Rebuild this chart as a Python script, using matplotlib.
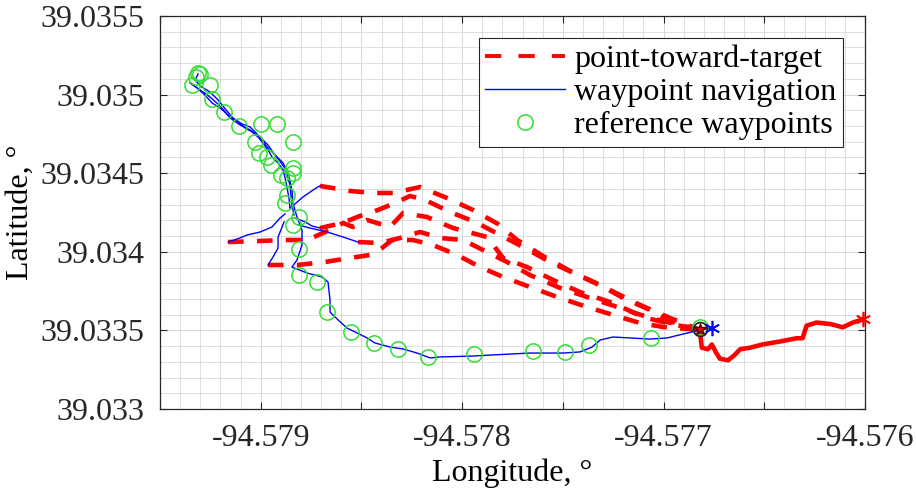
import numpy as np
import matplotlib
matplotlib.use("Agg")
import matplotlib.pyplot as plt
from matplotlib.ticker import MultipleLocator

plt.rcParams.update({
    "font.family": "Liberation Serif",
    "font.size": 23,
})

# ---- data (degrees) ----
# reference waypoints
wp_lon = [-94.57931, -94.57930, -94.57932, -94.57934, -94.57925, -94.57924, -94.57918,
          -94.57911, -94.57900, -94.57892, -94.57884, -94.57903, -94.57901, -94.57897,
          -94.57895, -94.57884, -94.57887, -94.57890, -94.57884, -94.57887, -94.57888,
          -94.57881, -94.57884, -94.57881, -94.57881, -94.57872, -94.57867, -94.57855,
          -94.57844, -94.57832, -94.57817, -94.57794, -94.57765, -94.57749, -94.57737,
          -94.57706, -94.57682]
wp_lat = [39.03514, 39.03513, 39.03511, 39.03506, 39.03506, 39.03497, 39.03489,
          39.03480, 39.03481, 39.03481, 39.03470, 39.03470, 39.03463, 39.03460,
          39.03455, 39.03453, 39.03447, 39.03449, 39.03450, 39.03436, 39.03431,
          39.03422, 39.03417, 39.03402, 39.03385, 39.03381, 39.03362, 39.03349,
          39.03342, 39.03338, 39.03333, 39.03335, 39.03337, 39.03336, 39.03341,
          39.03345, 39.03352]

# waypoint navigation: main run (target -> bottom -> up the ridge)
nav_lon = [-94.576759, -94.576819, -94.576983, -94.577067, -94.577251, -94.577315,
           -94.577355, -94.577415, -94.577499, -94.577663, -94.577847, -94.577946,
           -94.578110, -94.578159, -94.578224, -94.578294, -94.578358, -94.578433,
           -94.578472, -94.578522, -94.578572, -94.578631, -94.578656, -94.578656,
           -94.578666, -94.578696, -94.578770, -94.578845, -94.578820, -94.578795,
           -94.578795, -94.578820, -94.578840, -94.578845, -94.578864, -94.578889,
           -94.578929, -94.578964, -94.579003, -94.579053, -94.579103, -94.579152,
           -94.579202, -94.579252, -94.579301, -94.579341]
nav_lat = [39.033515, 39.033503, 39.033452, 39.033445, 39.033458, 39.033439,
           39.033394, 39.033363, 39.033356, 39.033356, 39.033344, 39.033337,
           39.033331, 39.033325, 39.033356, 39.033382, 39.033394, 39.033420,
           39.033452, 39.033484, 39.033515, 39.033585, 39.033617, 39.033693,
           39.033808, 39.033840, 39.033865, 39.033903, 39.033948, 39.034043,
           39.034139, 39.034221, 39.034310, 39.034393, 39.034501, 39.034565,
           39.034616, 39.034679, 39.034730, 39.034775, 39.034807, 39.034851,
           39.034928, 39.034985, 39.035029, 39.035067]

# ridge descents (blue)
ridgeA_lon = [-94.579351, -94.579316, -94.579277, -94.579242, -94.579202, -94.579162,
              -94.579113, -94.579078, -94.579043, -94.579013, -94.578989, -94.578964,
              -94.578944, -94.578914, -94.578889, -94.578879, -94.578869, -94.578860,
              -94.578855]
ridgeA_lat = [39.035074, 39.035042, 39.034997, 39.034947, 39.034915, 39.034870,
              39.034826, 39.034788, 39.034762, 39.034730, 39.034692, 39.034648,
              39.034603, 39.034565, 39.034520, 39.034470, 39.034406, 39.034342,
              39.034279]
ridgeB_lon = [-94.579311, -94.579326, -94.579301, -94.579252, -94.579212, -94.579172,
              -94.579138, -94.579093, -94.579053, -94.579023, -94.578994, -94.578969,
              -94.578939, -94.578909, -94.578884, -94.578869, -94.578855, -94.578850,
              -94.578845, -94.578835]
ridgeB_lat = [39.035131, 39.035093, 39.035055, 39.035017, 39.034966, 39.034902,
              39.034851, 39.034813, 39.034794, 39.034756, 39.034711, 39.034667,
              39.034629, 39.034584, 39.034539, 39.034489, 39.034425, 39.034361,
              39.034298, 39.034234]

# blue branches leaving the ridge
br1_lon = [-94.578855, -94.578825, -94.578790, -94.578755, -94.578725, -94.578706]
br1_lat = [39.034279, 39.034310, 39.034349, 39.034380, 39.034406, 39.034419]
br2_lon = [-94.578879, -94.578904, -94.578944, -94.579003, -94.579068, -94.579103, -94.579162]
br2_lat = [39.034241, 39.034215, 39.034158, 39.034126, 39.034107, 39.034088, 39.034062]
br3_lon = [-94.578884, -94.578914, -94.578914, -94.578939, -94.578964]
br3_lat = [39.034190, 39.034094, 39.034024, 39.033967, 39.033916]
br4_lon = [-94.578815, -94.578755, -94.578671, -94.578591, -94.578517]
br4_lat = [39.034171, 39.034151, 39.034126, 39.034094, 39.034062]
br5_lon = [-94.578830, -94.578780, -94.578745, -94.578706]
br5_lat = [39.034215, 39.034190, 39.034164, 39.034151]

# point-toward-target runs (red dashed)
pt1_lon = [-94.578706, -94.578557, -94.578442, -94.578343, -94.578209, -94.578075,
           -94.577946, -94.577822, -94.577727, -94.577598, -94.577464, -94.577315,
           -94.577201, -94.577067, -94.576958, -94.576819]
pt1_lat = [39.034419, 39.034387, 39.034374, 39.034374, 39.034412, 39.034342,
           39.034266, 39.034177, 39.034075, 39.033973, 39.033878, 39.033789,
           39.033706, 39.033630, 39.033554, 39.033503]
pt2_lon = [-94.579162, -94.579003, -94.578879, -94.578770, -94.578656, -94.578591,
           -94.578542, -94.578472, -94.578358, -94.578293, -94.578174, -94.578045,
           -94.577876, -94.577797, -94.577678, -94.577549, -94.577415, -94.577251,
           -94.577102, -94.576983, -94.576819]
pt2_lat = [39.034062, 39.034069, 39.034075, 39.034075, 39.034139, 39.034183,
           39.034158, 39.034202, 39.034158, 39.034247, 39.034221, 39.034151,
           39.034094, 39.033961, 39.033903, 39.033821, 39.033744, 39.033674,
           39.033585, 39.033547, 39.033503]
pt3_lon = [-94.578964, -94.578820, -94.578681, -94.578591, -94.578457, -94.578398,
           -94.578348, -94.578244, -94.578145, -94.578025, -94.577911, -94.577797,
           -94.577663, -94.577529, -94.577380, -94.577216, -94.577117, -94.577003,
           -94.576819]
pt3_lat = [39.033916, 39.033916, 39.033935, 39.033954, 39.033980, 39.034024,
           39.034075, 39.034075, 39.034043, 39.033980, 39.033903, 39.033840,
           39.033776, 39.033713, 39.033649, 39.033585, 39.033547, 39.033522,
           39.033503]
pt4_lon = [-94.578517, -94.578408, -94.578308, -94.578209, -94.578110, -94.577996,
           -94.577896, -94.577777, -94.577663, -94.577514, -94.577365, -94.577216,
           -94.577067, -94.576918, -94.576819]
pt4_lat = [39.034062, 39.034056, 39.034088, 39.034126, 39.034088, 39.034075,
           39.034011, 39.033935, 39.033852, 39.033770, 39.033706, 39.033643,
           39.033579, 39.033534, 39.033503]
pt5_lon = [-94.578706, -94.578596, -94.578507, -94.578418, -94.578333, -94.578259,
           -94.578184, -94.578060, -94.577936, -94.577812, -94.577688, -94.577564,
           -94.577415, -94.577266, -94.577117, -94.576968, -94.576819]
pt5_lat = [39.034151, 39.034183, 39.034228, 39.034266, 39.034310, 39.034355,
           39.034330, 39.034253, 39.034190, 39.034107, 39.034024, 39.033935,
           39.033846, 39.033757, 39.033662, 39.033579, 39.033503]

# drive in from the east (red solid)
east_lon = [-94.576819, -94.576810, -94.576780, -94.576760, -94.576740, -94.576720,
            -94.576680, -94.576650, -94.576620, -94.576570, -94.576510, -94.576420,
            -94.576340, -94.576310, -94.576300, -94.576290, -94.576240, -94.576170,
            -94.576110, -94.576060, -94.576010]
east_lat = [39.033490, 39.033390, 39.033380, 39.033410, 39.033360, 39.033320,
            39.033310, 39.033340, 39.033380, 39.033390, 39.033410, 39.033430,
            39.033450, 39.033450, 39.033490, 39.033530, 39.033550, 39.033540,
            39.033520, 39.033550, 39.033570]

target = (-94.576819, 39.033509)
start_blue = (-94.576759, 39.033515)
start_red = (-94.576010, 39.033570)

x_major = [-94.5795, -94.579, -94.5785, -94.578, -94.5775, -94.577, -94.5765, -94.576]
x_labels = ["", "-94.579", "", "-94.578", "", "-94.577", "", "-94.576"]
y_major = [39.033, 39.0335, 39.034, 39.0345, 39.035, 39.0355]
y_labels = ["39.033", "39.0335", "39.034", "39.0345", "39.035", "39.0355"]

# ---- figure ----
fig = plt.figure(figsize=(9.16, 4.98), dpi=100)
ax = fig.add_axes([0.1747, 0.1787, 0.7696, 0.7892])

RED = "#ff0000"
BLUE = "#0000ff"
GREEN = "#33dd33"
dash_kw = dict(color=RED, lw=3.3, ls=(0, (3.4, 2.9)), solid_capstyle="butt",
               dash_capstyle="butt")

for lo, la in [(pt1_lon, pt1_lat), (pt2_lon, pt2_lat), (pt3_lon, pt3_lat),
               (pt4_lon, pt4_lat), (pt5_lon, pt5_lat)]:
    ax.plot(lo, la, **dash_kw)
ax.plot(east_lon, east_lat, color=RED, lw=3.3, solid_joinstyle="round")

for lo, la in [(ridgeA_lon, ridgeA_lat), (ridgeB_lon, ridgeB_lat),
               (br1_lon, br1_lat), (br2_lon, br2_lat), (br3_lon, br3_lat),
               (br4_lon, br4_lat), (br5_lon, br5_lat)]:
    ax.plot(lo, la, color=BLUE, lw=1.0)
ax.plot(nav_lon, nav_lat, color=BLUE, lw=1.0)

ax.plot(wp_lon, wp_lat, ls="none", marker="o", ms=11, mfc="none",
        mec=GREEN, mew=1.1)

ax.plot(*target, marker="o", ms=10, mfc="none", mec="#222222", mew=1.2, zorder=5)
ax.plot(*target, marker="*", ms=9, color=RED, mec="#550000", zorder=6)
ax.plot(*start_blue, marker=(6, 2, 0), ms=11, mec=BLUE, mew=1.2, ls="none", zorder=6)
ax.plot(*start_red, marker=(6, 2, 0), ms=11, mec=RED, mew=1.2, ls="none",
        zorder=6, clip_on=False)

# legend proxies
h1, = ax.plot([], [], label="point-toward-target", color=RED, lw=2.8,
              ls=(0, (4.2, 4.4)), dash_capstyle="butt")
h2, = ax.plot([], [], color=BLUE, lw=1.0, label="waypoint navigation")
h3, = ax.plot([], [], ls="none", marker="o", ms=11, mfc="none", mec=GREEN,
              mew=1.1, label="reference waypoints")

ax.set_xlim(-94.5795, -94.576)
ax.set_ylim(39.033, 39.0355)
ax.set_xticks(x_major)
ax.set_xticklabels(x_labels)
ax.set_yticks(y_major)
ax.set_yticklabels(y_labels)
ax.xaxis.set_minor_locator(MultipleLocator(0.0001))
ax.yaxis.set_minor_locator(MultipleLocator(0.0001))

ax.tick_params(which="major", direction="in", length=5, width=0.8, pad=11,
               top=True, right=True, colors="#262626")
ax.tick_params(which="minor", length=0)
ax.grid(True, which="major", color="#d6d6d6", lw=0.7, ls="-")
ax.grid(True, which="minor", color="#d9d9d9", lw=0.6, ls="-")
ax.set_axisbelow(True)
for s in ax.spines.values():
    s.set_color("#262626")
    s.set_linewidth(0.9)

ax.set_xlabel("Longitude, °", labelpad=4)
ax.set_ylabel("Latitude, °", labelpad=4)

leg = ax.legend(handles=[h1, h2, h3], loc="upper right",
                bbox_to_anchor=(0.969, 0.944), frameon=True, fancybox=False,
                edgecolor="#262626", framealpha=1, handlelength=2.5,
                handletextpad=0.3, labelspacing=0.12, borderpad=0.2,
                borderaxespad=0, fontsize=23)
leg.get_frame().set_linewidth(0.8)

fig.savefig("out.png", dpi=100)
